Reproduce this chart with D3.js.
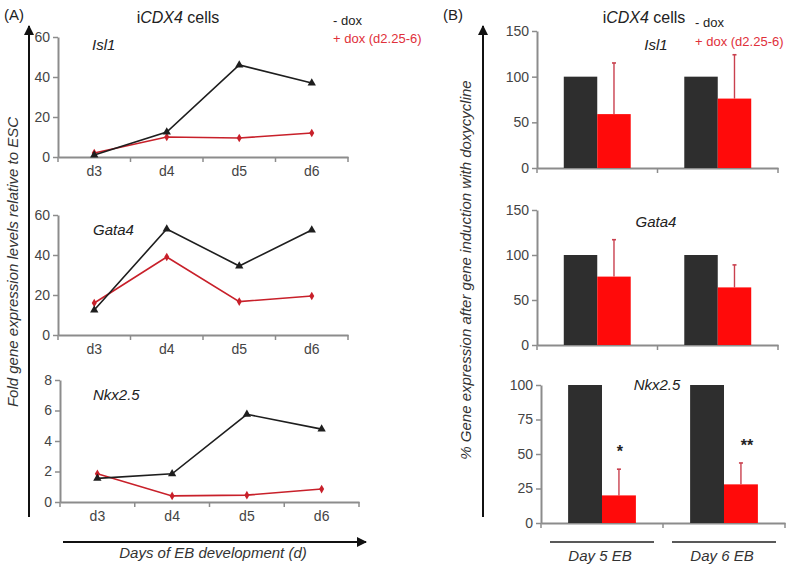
<!DOCTYPE html>
<html><head><meta charset="utf-8">
<script src="https://cdn.jsdelivr.net/npm/d3@7"></script>
<style>
html,body{margin:0;padding:0;background:#fff;}
svg{display:block;font-family:"Liberation Sans",Arial,sans-serif;}
</style></head>
<body>
<svg id="c" width="800" height="567"></svg>
<script>
// ---------- data ----------
const days = ["d3", "d4", "d5", "d6"];
const isl1Minus = [1, 12.5, 46, 37];
const isl1Plus = [2, 10, 9.5, 12];
const gata4Minus = [12.5, 53, 34.5, 52.5];
const gata4Plus = [16, 39, 16.7, 19.5];
const nkxMinus = [1.55, 1.85, 5.75, 4.78];
const nkxPlus = [1.85, 0.4, 0.45, 0.85];
const ticks60 = [0, 20, 40, 60];
const ticks8 = [0, 2, 4, 6, 8];

const ebDays = ["Day 5 EB", "Day 6 EB"];
const controlPct = [100, 100];
const isl1Pct = [59, 76];
const isl1Err = [56, 48];
const gata4Pct = [76, 64];
const gata4Err = [41, 25];
const nkxPct = [20, 28];
const nkxErr = [19, 15.5];
const nkxSig = ["*", "**"];
const ticks150 = [0, 50, 100, 150];
const ticks100 = [0, 25, 50, 75, 100];

const legendLabels = ["- dox", "+ dox (d2.25-6)"];

// ---------- styles ----------
const AXIS = "#8c8c8c", TXT = "#444", BLK = "#1e1e1e", RED = "#c8202a";
const BARK = "#2e2e2e", BARR = "#ff0a0a", ERR = "#c9404e";
const svg = d3.select("#c");

function styleAxis(g) {
  g.selectAll(".domain").attr("stroke", AXIS).attr("stroke-width", 2);
  g.selectAll(".tick line").attr("stroke", AXIS).attr("stroke-width", 1.5);
  g.selectAll(".tick text").attr("fill", TXT).style("font-size", "14px")
    .style("font-family", "'Liberation Sans',Arial,sans-serif");
}

// ---------- panel A line charts ----------
const lineCharts = [
  {gene: "Isl1", minus: isl1Minus, plus: isl1Plus, max: 60, ticks: ticks60, x0: 58, x1: 348, yTop: 37, yBot: 157, lx: 92, ly: 45},
  {gene: "Gata4", minus: gata4Minus, plus: gata4Plus, max: 60, ticks: ticks60, x0: 58, x1: 348, yTop: 215, yBot: 335, lx: 93, ly: 230},
  {gene: "Nkx2.5", minus: nkxMinus, plus: nkxPlus, max: 8, ticks: ticks8, x0: 60, x1: 359, yTop: 380, yBot: 502, lx: 93, ly: 395}
];

lineCharts.forEach(c => {
  const x = d3.scaleBand().domain(days).range([c.x0, c.x1]).padding(0);
  const y = d3.scaleLinear().domain([0, c.max]).range([c.yBot, c.yTop]);
  const g = svg.append("g");
  const ya = g.append("g").attr("transform", `translate(${c.x0},0)`)
    .call(d3.axisLeft(y).tickValues(c.ticks).tickSize(5).tickPadding(3).tickSizeOuter(0));
  styleAxis(ya);
  const xa = g.append("g").attr("transform", `translate(0,${c.yBot})`)
    .call(d3.axisBottom(x).tickSize(0).tickPadding(9).tickSizeOuter(0));
  styleAxis(xa);
  const bounds = days.map(d => x(d)).concat([x(days[days.length - 1]) + x.bandwidth()]);
  g.selectAll("line.bt").data(bounds).join("line").attr("class", "bt")
    .attr("x1", d => d).attr("x2", d => d).attr("y1", c.yBot).attr("y2", c.yBot + 5)
    .attr("stroke", AXIS).attr("stroke-width", 1.5);
  const cx = d => x(d) + x.bandwidth() / 2;
  const line = d3.line().x((v, i) => cx(days[i])).y(v => y(v));
  g.append("path").attr("d", line(c.plus)).attr("fill", "none").attr("stroke", RED).attr("stroke-width", 1.6);
  g.selectAll("path.dm").data(c.plus).join("path").attr("class", "dm")
    .attr("transform", (v, i) => `translate(${cx(days[i])},${y(v)})`)
    .attr("d", d3.symbol(d3.symbolDiamond, 22)).attr("fill", RED);
  g.append("path").attr("d", line(c.minus)).attr("fill", "none").attr("stroke", BLK).attr("stroke-width", 1.6);
  g.selectAll("path.tr").data(c.minus).join("path").attr("class", "tr")
    .attr("transform", (v, i) => `translate(${cx(days[i])},${y(v)})`)
    .attr("d", d3.symbol(d3.symbolTriangle, 30)).attr("fill", BLK);
  g.append("text").attr("x", c.lx).attr("y", c.ly).attr("dy", "0.35em")
    .attr("font-style", "italic").attr("font-size", 15).attr("fill", "#222").text(c.gene);
});

// ---------- panel B bar charts ----------
const barCharts = [
  {gene: "Isl1", vals: isl1Pct, err: isl1Err, max: 150, ticks: ticks150, x0: 537, x1: 778, yTop: 31, yBot: 168, lx: 656, ly: 45},
  {gene: "Gata4", vals: gata4Pct, err: gata4Err, max: 150, ticks: ticks150, x0: 537, x1: 778, yTop: 210, yBot: 345, lx: 656, ly: 222},
  {gene: "Nkx2.5", vals: nkxPct, err: nkxErr, max: 100, ticks: ticks100, x0: 541, x1: 785, yTop: 385, yBot: 523, lx: 657, ly: 385, sig: nkxSig}
];

barCharts.forEach(c => {
  const x = d3.scaleBand().domain(ebDays).range([c.x0, c.x1]).padding(0);
  const xs = d3.scaleBand().domain(["minus", "plus"]).range([0, x.bandwidth()]).paddingInner(0).paddingOuter(0.8);
  const y = d3.scaleLinear().domain([0, c.max]).range([c.yBot, c.yTop]);
  const g = svg.append("g");
  const ya = g.append("g").attr("transform", `translate(${c.x0},0)`)
    .call(d3.axisLeft(y).tickValues(c.ticks).tickSize(5).tickPadding(3).tickSizeOuter(0));
  styleAxis(ya);
  const xa = g.append("g").attr("transform", `translate(0,${c.yBot})`)
    .call(d3.axisBottom(x).tickValues([]).tickSizeOuter(0));
  styleAxis(xa);
  const bounds = ebDays.map(d => x(d)).concat([x(ebDays[ebDays.length - 1]) + x.bandwidth()]);
  g.selectAll("line.bt").data(bounds).join("line").attr("class", "bt")
    .attr("x1", d => d).attr("x2", d => d).attr("y1", c.yBot).attr("y2", c.yBot + 5)
    .attr("stroke", AXIS).attr("stroke-width", 1.5);
  g.selectAll("rect.k").data(controlPct).join("rect").attr("class", "k")
    .attr("x", (v, i) => x(ebDays[i]) + xs("minus")).attr("width", xs.bandwidth())
    .attr("y", v => y(v)).attr("height", v => c.yBot - y(v)).attr("fill", BARK);
  const ex = i => x(ebDays[i]) + xs("plus") + xs.bandwidth() / 2;
  g.selectAll("line.e").data(c.vals).join("line").attr("class", "e")
    .attr("x1", (v, i) => ex(i)).attr("x2", (v, i) => ex(i))
    .attr("y1", v => y(v)).attr("y2", (v, i) => y(v + c.err[i]))
    .attr("stroke", ERR).attr("stroke-width", 1.4);
  g.selectAll("line.ec").data(c.vals).join("line").attr("class", "ec")
    .attr("x1", (v, i) => ex(i) - 2).attr("x2", (v, i) => ex(i) + 2)
    .attr("y1", (v, i) => y(v + c.err[i])).attr("y2", (v, i) => y(v + c.err[i]))
    .attr("stroke", ERR).attr("stroke-width", 1.6);
  g.selectAll("rect.r").data(c.vals).join("rect").attr("class", "r")
    .attr("x", (v, i) => x(ebDays[i]) + xs("plus")).attr("width", xs.bandwidth())
    .attr("y", v => y(v)).attr("height", v => c.yBot - y(v)).attr("fill", BARR);
  if (c.sig) {
    g.selectAll("text.s").data(c.sig).join("text").attr("class", "s")
      .attr("x", (s, i) => ex(i) + (s.length > 1 ? 6 : 1))
      .attr("y", (s, i) => y(c.vals[i] + c.err[i]) - 12)
      .attr("text-anchor", "middle").attr("font-size", 16).attr("font-weight", "bold")
      .attr("fill", "#222").text(s => s);
  }
  g.append("text").attr("x", c.lx).attr("y", c.ly).attr("dy", "0.35em").attr("text-anchor", "middle")
    .attr("font-style", "italic").attr("font-size", 15).attr("fill", "#222").text(c.gene);
  if (c.gene === "Nkx2.5") {
    ebDays.forEach(d => {
      const cxm = x(d) + x.bandwidth() / 2;
      g.append("line").attr("x1", cxm - 52).attr("x2", cxm + 52).attr("y1", 542).attr("y2", 542)
        .attr("stroke", "#222").attr("stroke-width", 1.5);
      g.append("text").attr("x", cxm - 2).attr("y", 556).attr("dy", "0.35em").attr("text-anchor", "middle")
        .attr("font-style", "italic").attr("font-size", 15).attr("fill", "#333").text(d);
    });
  }
});

// ---------- big arrows & axis titles ----------
const defs = svg.append("defs");
defs.append("marker").attr("id", "ah").attr("viewBox", "0 0 10 10").attr("refX", 9).attr("refY", 5)
  .attr("markerWidth", 5).attr("markerHeight", 5).attr("orient", "auto")
  .append("path").attr("d", "M0,0L10,5L0,10Z").attr("fill", "#111");

svg.append("line").attr("x1", 29).attr("x2", 29).attr("y1", 517).attr("y2", 26)
  .attr("stroke", "#111").attr("stroke-width", 2).attr("marker-end", "url(#ah)");
svg.append("line").attr("x1", 483).attr("x2", 483).attr("y1", 517).attr("y2", 26)
  .attr("stroke", "#111").attr("stroke-width", 2).attr("marker-end", "url(#ah)");
svg.append("line").attr("x1", 63).attr("x2", 366).attr("y1", 542).attr("y2", 542)
  .attr("stroke", "#111").attr("stroke-width", 2).attr("marker-end", "url(#ah)");

svg.append("text").attr("transform", "translate(13,262) rotate(-90)").attr("dy", "0.35em")
  .attr("text-anchor", "middle").attr("font-style", "italic").attr("font-size", 15).attr("fill", "#333")
  .text("Fold gene expression levels relative to ESC");
svg.append("text").attr("transform", "translate(466,270) rotate(-90)").attr("dy", "0.35em")
  .attr("text-anchor", "middle").attr("font-style", "italic").attr("font-size", 15).attr("fill", "#333")
  .text("% Gene expression after gene induction with doxycycline");
svg.append("text").attr("x", 213).attr("y", 553).attr("dy", "0.35em").attr("text-anchor", "middle")
  .attr("font-style", "italic").attr("font-size", 15).attr("fill", "#333").text("Days of EB development (d)");

// ---------- titles & legends ----------
function title(xc, yc) {
  const t = svg.append("text").attr("x", xc).attr("y", yc).attr("dy", "0.35em").attr("text-anchor", "middle")
    .attr("font-size", 16).attr("fill", "#222");
  t.append("tspan").text("i");
  t.append("tspan").attr("font-style", "italic").text("CDX4");
  t.append("tspan").text(" cells");
}
title(178, 17);
title(644, 17);
svg.append("text").attr("x", 4).attr("y", 15).attr("dy", "0.35em").attr("font-size", 15).attr("fill", "#222").text("(A)");
svg.append("text").attr("x", 443).attr("y", 15).attr("dy", "0.35em").attr("font-size", 15).attr("fill", "#222").text("(B)");

function legend(x0, y1, y2) {
  svg.append("text").attr("x", x0).attr("y", y1).attr("dy", "0.35em").attr("font-size", 13).attr("fill", "#222").text(legendLabels[0]);
  svg.append("text").attr("x", x0).attr("y", y2).attr("dy", "0.35em").attr("font-size", 13).attr("fill", "#e0303a").text(legendLabels[1]);
}
legend(333, 20, 38);
legend(695, 22, 41);
</script>
</body></html>
